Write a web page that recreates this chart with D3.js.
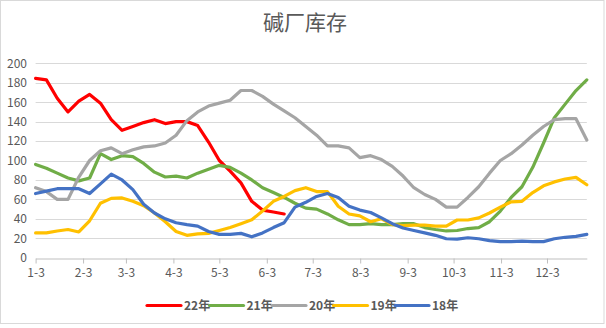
<!DOCTYPE html>
<html><head><meta charset="utf-8">
<script src="https://cdn.jsdelivr.net/npm/d3@7"></script>
<style>body{margin:0;background:#fff}svg{display:block}</style>
</head><body>
<script>
const title = "碱厂库存";
const seriesNames = ["22年","21年","20年","19年","18年"];
const colors = ["#FF0000","#70AD47","#A5A5A5","#FFC000","#4472C4"];
const tickLabels = ["1-3","2-3","3-3","4-3","5-3","6-3","7-3","8-3","9-3","10-3","11-3","12-3"];
const tickDays = [0,31,59,90,120,151,181,212,243,273,304,334];
const yTicks = [0,20,40,60,80,100,120,140,160,180,200];

const s22 = [184.5,183,164,150,161,168,159,142,131,135,139,142,138,140,140,136,119,100,89,77,58,49,47,45];
const s21 = [96,92,87,82,79,82,107,101,105,104,97,88,83,84,82,87,91,95,93,87,80,72,67,62,56,51,50,45,39,34,34,35,34,34,35,35,31,29,27.5,28,30,31,37,48,62,73,93,118,144,158,172,183];
const s20 = [72,68,60,60,83,100,110,113,107,111,114,115,118,126,141,150,156,159,162,172,172,166,158,151,144,135,126,115,115,113,103,105,101,94,84,72,65,60,52,52,62,73,87,100,107,116,126,135,142,143,143,121];
const s19 = [25.5,25.5,27.5,29,26.5,38,56,61,61.5,58,53.5,46,37,27,23,24.5,25,28,31,35,39,48,58,63,69,72,68,68,53,45,43,37,40,34,33,33.5,33.5,32.5,32.5,38.8,38.8,41,46,52,57.5,58,67,74,78,81,82.7,75];
const s18 = [66,68.5,71,71,71,66,76,86,80,70,55,46,40,36,34,32.5,27,24,24,25,21.5,25.5,31,36,52,57,63,66,62,53,49,46.5,41,35,30.5,28,25.5,23,19.5,19.2,20.5,19.5,17.5,16.5,16.5,17,16.5,16.5,19.5,21,22,24];
const allSeries = [s22,s21,s20,s19,s18];

const W = 606, H = 328;
const svg = d3.select("body").append("svg").attr("width", W).attr("height", H);
const font = "'Noto Sans CJK SC','Microsoft YaHei',sans-serif";

svg.append("rect").attr("x",0.5).attr("y",0.5).attr("width",603.5).attr("height",323)
  .attr("fill","#fff").attr("stroke","#d9d9d9");

const x = d3.scaleLinear().domain([0,360]).range([35.6,586.8]);
const xi = d3.scaleLinear().domain([0,51]).range([35.6,586.8]);
const y = d3.scaleLinear().domain([0,200]).range([257.7,63.3]);

// gridlines
svg.append("g").selectAll("line").data(yTicks.filter(d=>d>0)).join("line")
  .attr("x1",35.6).attr("x2",586.8)
  .attr("y1",d=>Math.round(y(d))+0.5).attr("y2",d=>Math.round(y(d))+0.5)
  .attr("stroke","#d9d9d9").attr("stroke-width",1);

// y axis labels
const yAxis = d3.axisLeft(y).tickValues(yTicks).tickSize(0).tickPadding(0);
const gy = svg.append("g").attr("transform","translate(27,0)").call(yAxis);
gy.select(".domain").remove();
gy.selectAll("text").attr("fill","#595959").style("font-family",font).style("font-size","12px");

// x axis
const xAxis = d3.axisBottom(x).tickValues(tickDays).tickFormat((d,i)=>tickLabels[i]).tickSize(5).tickPadding(5).tickSizeOuter(0);
const gx = svg.append("g").attr("transform","translate(0,"+(Math.round(y(0))+0.5)+")").call(xAxis);
gx.select(".domain").attr("stroke","#bfbfbf");
gx.selectAll(".tick line").attr("stroke","#bfbfbf");
gx.selectAll("text").attr("fill","#595959").style("font-family",font).style("font-size","12px");

// lines
const line = d3.line().x((d,i)=>xi(i)).y(d=>y(d));
allSeries.forEach((s,k)=>{
  svg.append("path").datum(s).attr("d",line).attr("fill","none")
    .attr("stroke",colors[k]).attr("stroke-width",3.2)
    .attr("stroke-linejoin","round").attr("stroke-linecap","round");
});

// title
svg.append("text").attr("x",305).attr("y",30).attr("text-anchor","middle")
  .attr("fill","#595959").style("font-family",font).style("font-size","21px").text(title);

// legend
const legX = [147,209.5,272,333.5,395];
const lg = svg.append("g");
seriesNames.forEach((n,k)=>{
  lg.append("line").attr("x1",legX[k]).attr("x2",legX[k]+34).attr("y1",305.5).attr("y2",305.5)
    .attr("stroke",colors[k]).attr("stroke-width",3.2).attr("stroke-linecap","round");
  lg.append("text").attr("x",legX[k]+37).attr("y",310).attr("fill","#595959")
    .style("font-family",font).style("font-size","12px").style("font-weight","bold").text(n);
});
</script>
</body></html>
